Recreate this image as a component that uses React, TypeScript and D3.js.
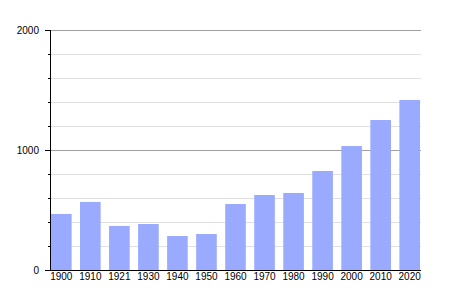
import React from "react";
import * as d3 from "d3";

const years = ["1900","1910","1921","1930","1940","1950","1960","1970","1980","1990","2000","2010","2020"];
const population = [467, 567, 367, 383, 283, 300, 550, 625, 642, 825, 1033, 1250, 1417];
const majorTicks = [0, 1000, 2000];
const minorTicks = [200, 400, 600, 800, 1200, 1400, 1600, 1800];

export default function App() {
  const W = 450, H = 300;
  const left = 50, right = 420, top = 30, bottom = 270;
  const x = d3.scaleBand<string>().domain(years).range([left + 1, right]).paddingInner(0.29).paddingOuter(0);
  const y = d3.scaleLinear().domain([0, 2000]).range([bottom, top]);
  const font = "'Liberation Sans', Arial, sans-serif";
  return (
    <svg width={W} height={H} style={{ position: "absolute", left: 0, top: 0, background: "#fff" }}>
      {minorTicks.map(t => (
        <line key={"g" + t} x1={left} x2={right + 1} y1={y(t) + 0.5} y2={y(t) + 0.5} stroke="#e0e0e0" strokeWidth={1} />
      ))}
      {majorTicks.filter(t => t > 0).map(t => (
        <line key={"G" + t} x1={left} x2={right + 1} y1={y(t) + 0.5} y2={y(t) + 0.5} stroke="#a0a0a0" strokeWidth={1} />
      ))}
      {years.map((yr, i) => (
        <rect key={yr} x={x(yr)!} y={y(population[i])} width={x.bandwidth()} height={y(0) - y(population[i])} fill="#99aaff" />
      ))}
      <line x1={left + 0.5} x2={left + 0.5} y1={top} y2={bottom + 1} stroke="#000" strokeWidth={1} />
      <line x1={left} x2={right + 1} y1={bottom + 0.5} y2={bottom + 0.5} stroke="#000" strokeWidth={1} />
      {minorTicks.map(t => (
        <line key={"mt" + t} x1={left - 2} x2={left} y1={y(t) + 0.5} y2={y(t) + 0.5} stroke="#000" strokeWidth={1} />
      ))}
      {majorTicks.map(t => (
        <line key={"Mt" + t} x1={left - 5} x2={left} y1={y(t) + 0.5} y2={y(t) + 0.5} stroke="#000" strokeWidth={1} />
      ))}
      {majorTicks.map(t => (
        <text key={"l" + t} x={left - 11} y={y(t) + 4} textAnchor="end" fontFamily={font} fontSize={10} fill="#000">{t}</text>
      ))}
      {years.map(yr => (
        <text key={"x" + yr} x={x(yr)! + x.bandwidth() / 2} y={bottom + 10} textAnchor="middle" fontFamily={font} fontSize={10} fill="#000">{yr}</text>
      ))}
    </svg>
  );
}
